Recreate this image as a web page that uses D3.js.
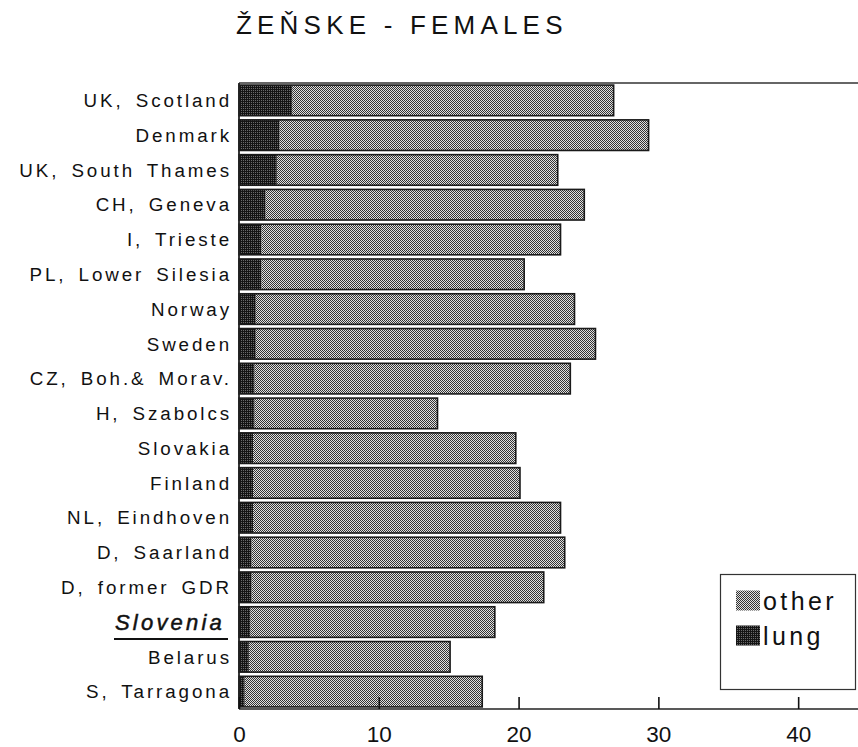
<!DOCTYPE html>
<html>
<head>
<meta charset="utf-8">
<script src="https://cdn.jsdelivr.net/npm/d3@7"></script>
<style>
  html, body { margin: 0; padding: 0; background: #fff; }
  svg { display: block; }
  text { font-family: "Liberation Sans", Arial, Helvetica, sans-serif; fill: #111; }
</style>
</head>
<body>
<svg id="chart" width="858" height="747"></svg>
<script>
const categories = ["UK, Scotland", "Denmark", "UK, South Thames", "CH, Geneva", "I, Trieste",
  "PL, Lower Silesia", "Norway", "Sweden", "CZ, Boh.& Morav.", "H, Szabolcs", "Slovakia",
  "Finland", "NL, Eindhoven", "D, Saarland", "D, former GDR", "Slovenia", "Belarus", "S, Tarragona"];
const lung  = [3.8, 2.9, 2.7, 1.9, 1.6, 1.6, 1.2, 1.2, 1.1, 1.1, 1.0, 1.0, 1.0, 0.9, 0.9, 0.8, 0.7, 0.4];
const other = [23.0, 26.4, 20.1, 22.8, 21.4, 18.8, 22.8, 24.3, 22.6, 13.1, 18.8, 19.1, 22.0, 22.4, 20.9, 17.5, 14.4, 17.0];
const tickValues = [0, 10, 20, 30, 40];
const titleText = "ŽEŇSKE - FEMALES";
const legendLabels = ["other", "lung"];
const highlight = "Slovenia";

const svg = d3.select("#chart");
const defs = svg.append("defs");

// dithered fills
const pOther = defs.append("pattern").attr("id", "pOther")
  .attr("width", 2).attr("height", 2).attr("patternUnits", "userSpaceOnUse");
pOther.append("rect").attr("width", 2).attr("height", 2).attr("fill", "#e0e0e0");
pOther.append("rect").attr("x", 0).attr("y", 0).attr("width", 1).attr("height", 1).attr("fill", "#333");
pOther.append("rect").attr("x", 1).attr("y", 1).attr("width", 1).attr("height", 1).attr("fill", "#333");

const pLung = defs.append("pattern").attr("id", "pLung")
  .attr("width", 2).attr("height", 2).attr("patternUnits", "userSpaceOnUse");
pLung.append("rect").attr("width", 2).attr("height", 2).attr("fill", "#151515");
pLung.append("rect").attr("x", 1).attr("y", 0).attr("width", 1).attr("height", 1).attr("fill", "#6a6a6a");

const pLeft = 239, pRight = 858, pTop = 83, pBottom = 709;

const x = d3.scaleLinear().domain([0, 44.28]).range([pLeft, pRight]);
const y = d3.scaleBand().domain(categories).range([pTop, pBottom]).paddingInner(0.12).paddingOuter(0.06);

// bars
const rows = categories.map((c, i) => ({ c, lung: lung[i], other: other[i] }));
const g = svg.append("g");
rows.forEach(d => {
  g.append("rect")
    .attr("x", x(d.lung)).attr("y", y(d.c))
    .attr("width", x(d.lung + d.other) - x(d.lung)).attr("height", y.bandwidth())
    .attr("fill", "url(#pOther)");
  g.append("rect")
    .attr("x", x(0)).attr("y", y(d.c))
    .attr("width", x(d.lung) - x(0)).attr("height", y.bandwidth())
    .attr("fill", "url(#pLung)");
  g.append("rect")
    .attr("x", x(0)).attr("y", y(d.c))
    .attr("width", x(d.lung + d.other) - x(0)).attr("height", y.bandwidth())
    .attr("fill", "none").attr("stroke", "#1a1a1a").attr("stroke-width", 1.6);
});

// frame
svg.append("line").attr("x1", pLeft).attr("x2", pRight).attr("y1", pTop).attr("y2", pTop)
  .attr("stroke", "#333").attr("stroke-width", 1.5);
svg.append("line").attr("x1", pLeft).attr("x2", pLeft).attr("y1", pTop).attr("y2", pBottom)
  .attr("stroke", "#222").attr("stroke-width", 1.8);
svg.append("line").attr("x1", pLeft).attr("x2", pRight).attr("y1", pBottom).attr("y2", pBottom)
  .attr("stroke", "#222").attr("stroke-width", 1.6);

// x axis
const ax = svg.append("g").attr("transform", `translate(0,${pBottom})`)
  .call(d3.axisBottom(x).tickValues(tickValues).tickFormat(d3.format("d"))
    .tickSizeInner(-12).tickSizeOuter(0).tickPadding(17));
ax.select(".domain").remove();
ax.selectAll(".tick line").attr("stroke", "#111").attr("stroke-width", 1.6);
ax.selectAll(".tick text").style("font-size", "22.5px").style("font-family", "Liberation Sans, Arial, sans-serif").attr("fill", "#111");

// y labels
const labels = svg.append("g");
categories.forEach(c => {
  const isH = c === highlight;
  labels.append("text")
    .attr("x", isH ? 225 : 232).attr("y", y(c) + y.bandwidth() / 2)
    .attr("dy", "0.36em")
    .attr("text-anchor", "end")
    .style("font-size", isH ? "22px" : "18.8px")
    .style("letter-spacing", isH ? "3.2px" : "2.9px")
    .style("word-spacing", isH ? "0px" : "4px")
    .style("font-style", isH ? "italic" : "normal")
    .style("stroke", isH ? "#111" : "none")
    .style("stroke-width", isH ? "0.5px" : "0")
    .text(c);
  if (isH) {
    const yy = y(c) + y.bandwidth() / 2 + 17;
    labels.append("line").attr("x1", 114).attr("x2", 228).attr("y1", yy).attr("y2", yy)
      .attr("stroke", "#111").attr("stroke-width", 2);
  }
});

// title
svg.append("text").attr("x", 236).attr("y", 34)
  .style("font-size", "26px").style("letter-spacing", "5.2px")
  .text(titleText);

// legend
const lg = svg.append("g");
lg.append("rect").attr("x", 720.5).attr("y", 574.5).attr("width", 135).attr("height", 115)
  .attr("fill", "#fff").attr("stroke", "#333").attr("stroke-width", 1.2);
const fills = ["url(#pOther)", "url(#pLung)"];
legendLabels.forEach((l, i) => {
  const yy = 590.5 + i * 35;
  lg.append("rect").attr("x", 736).attr("y", yy).attr("width", 24).attr("height", 20)
    .attr("fill", fills[i]);
  lg.append("text").attr("x", 763).attr("y", yy + 19)
    .style("font-size", "25px").style("letter-spacing", "3.4px").text(l);
});
</script>
</body>
</html>
